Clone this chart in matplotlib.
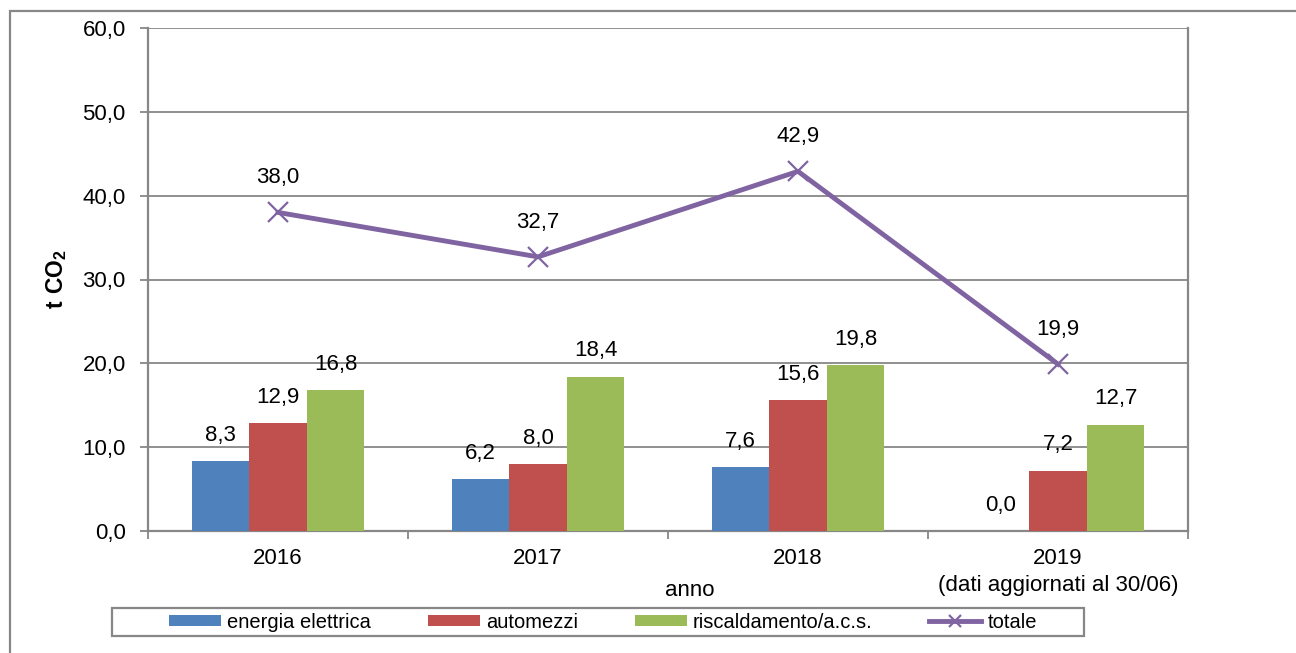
import matplotlib.pyplot as plt
import matplotlib.patches as mpatches
import numpy as np

plt.rcParams['font.family'] = ['Liberation Sans', 'DejaVu Sans']
plt.rcParams['mathtext.fontset'] = 'custom'
plt.rcParams['mathtext.bf'] = 'Liberation Sans:bold'
plt.rcParams['mathtext.rm'] = 'Liberation Sans'

# data
anni = ['2016', '2017', '2018', '2019\n(dati aggiornati al 30/06)']
energia = [8.3, 6.2, 7.6, 0.0]
automezzi = [12.9, 8.0, 15.6, 7.2]
riscaldamento = [16.8, 18.4, 19.8, 12.7]
totale = [38.0, 32.7, 42.9, 19.9]
serie_nomi = ['energia elettrica', 'automezzi', 'riscaldamento/a.c.s.', 'totale']

col_blu = '#4F81BD'
col_rosso = '#C0504D'
col_verde = '#9BBB59'
col_viola = '#8064A2'
grigio = '#878787'
fs = 16

def fmt(v):
    return f'{v:.1f}'.replace('.', ',')

fig = plt.figure(figsize=(12.96, 6.53), dpi=100)
ax = fig.add_axes([148/1296, 1-531/653, 1040/1296, 503/653])

x = np.arange(len(anni))
w = 0.221
bars = []
for k, (vals, col) in enumerate([(energia, col_blu), (automezzi, col_rosso), (riscaldamento, col_verde)]):
    b = ax.bar(x + (k-1)*w, vals, w, color=col, zorder=3, label=serie_nomi[k])
    bars.append(b)
    for xi, v in zip(x + (k-1)*w, vals):
        ax.annotate(fmt(v), (xi, v), xytext=(0, 11), textcoords='offset points',
                    ha='center', va='bottom', fontsize=fs, zorder=5)

ax.plot(x, totale, color=col_viola, lw=3.5, marker='x', ms=14, mew=1.6, zorder=4,
        label=serie_nomi[3])
for xi, v in zip(x, totale):
    ax.annotate(fmt(v), (xi, v), xytext=(0, 17.5), textcoords='offset points',
                ha='center', va='bottom', fontsize=fs, zorder=5)

ax.set_xlim(-0.5, 3.5)
ax.set_ylim(0, 60)
ax.set_yticks(np.arange(0, 61, 10))
ax.set_yticklabels([fmt(v) for v in np.arange(0, 61, 10)], fontsize=fs)
ax.yaxis.grid(True, color=grigio, lw=1.3, zorder=0)
ax.set_axisbelow(True)

ax.set_xticks(np.arange(-0.5, 4, 1))
ax.set_xticklabels([])
ax.set_xticks(x, minor=True)
ax.set_xticklabels(anni, minor=True, fontsize=fs)
ax.tick_params(axis='x', which='minor', length=0, pad=12)
for t in ax.get_xticklabels(minor=True):
    t.set_linespacing(1.4)
ax.tick_params(axis='both', which='major', length=6, width=1.3, color=grigio)
ax.tick_params(axis='y', pad=10)

for s in ['left', 'right', 'bottom', 'top']:
    ax.spines[s].set_color(grigio)
    ax.spines[s].set_linewidth(1.6)
ax.spines['top'].set_visible(False)

ax.set_xlabel('anno', fontsize=fs, va='center')
ax.xaxis.set_label_coords((690-148)/1040, (531-590)/503)
ax.set_ylabel(r'$\mathbf{t\ CO_2}$', fontsize=16.5, va='center')
ax.yaxis.set_label_coords((57-148)/1040, 0.5)

handles = bars + [ax.get_lines()[0]]
leg = fig.legend(handles, serie_nomi, loc='center', bbox_to_anchor=(603/1296, 1-622/653),
                 ncol=4, fontsize=14.5, frameon=False, markerscale=0.6,
                 handlelength=2.6, handletextpad=0.3, columnspacing=2.8,
                 borderpad=0.25, handleheight=0.5)

# cornice legenda
fig.patches.append(mpatches.Rectangle((112/1296, 1-636/653), 972/1296, 28/653, transform=fig.transFigure,
                                      fill=False, edgecolor=grigio, lw=1.6))

# bordo esterno
fig.patches.append(mpatches.Rectangle((10/1296, -0.2), 1.2, 1.2 - 11/653, transform=fig.transFigure,
                                      fill=False, edgecolor=grigio, lw=1.6, clip_on=False))

fig.savefig('out.png', dpi=100)
